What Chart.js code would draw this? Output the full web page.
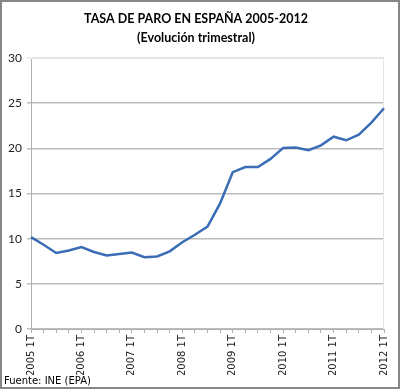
<!DOCTYPE html>
<html>
<head>
<meta charset="utf-8">
<script src="https://cdn.jsdelivr.net/npm/chart.js@4/dist/chart.umd.min.js"></script>
<style>
  body { margin: 0; background: #fff; }
  #box { width: 400px; height: 389px; box-sizing: border-box; border: 2px solid #868686; }
  #box canvas { display: block; }
</style>
</head>
<body>
<div id="box"><canvas id="myChart" width="396" height="385"></canvas></div>
<script>
var quarters = [
  "2005 1T", "2005 2T", "2005 3T", "2005 4T",
  "2006 1T", "2006 2T", "2006 3T", "2006 4T",
  "2007 1T", "2007 2T", "2007 3T", "2007 4T",
  "2008 1T", "2008 2T", "2008 3T", "2008 4T",
  "2009 1T", "2009 2T", "2009 3T", "2009 4T",
  "2010 1T", "2010 2T", "2010 3T", "2010 4T",
  "2011 1T", "2011 2T", "2011 3T", "2011 4T",
  "2012 1T"
];
var tasaParo = [
  10.17, 9.33, 8.42, 8.70,
  9.07, 8.53, 8.15, 8.30,
  8.47, 7.95, 8.03, 8.60,
  9.60, 10.43, 11.33, 13.91,
  17.36, 17.92, 17.93, 18.83,
  20.05, 20.09, 19.79, 20.33,
  21.29, 20.89, 21.52, 22.85,
  24.44
];
var shownLabels = ["2005 1T", "2006 1T", "2007 1T", "2008 1T", "2009 1T", "2010 1T", "2011 1T", "2012 1T"];

// light frame round the plot area, like the Excel chart
var plotFrame = {
  id: "plotFrame",
  beforeDatasetsDraw: function (chart) {
    var a = chart.chartArea;
    var ctx = chart.ctx;
    ctx.save();
    ctx.strokeStyle = "#e4e4e4";
    ctx.lineWidth = 1;
    ctx.beginPath();
    ctx.moveTo(a.left, a.top + 0.5);
    ctx.lineTo(a.right - 0.5, a.top + 0.5);
    ctx.lineTo(a.right - 0.5, a.bottom);
    ctx.stroke();
    ctx.restore();
  }
};

new Chart("myChart", {
  type: "line",
  data: {
    labels: quarters,
    datasets: [{
      data: tasaParo,
      borderColor: "#3a6db6",
      borderWidth: 2.5,
      pointRadius: 0,
      tension: 0,
      fill: false
    }]
  },
  plugins: [plotFrame],
  options: {
    responsive: false,
    animation: false,
    layout: { padding: { left: 2, right: 10, top: 0, bottom: 0 } },
    plugins: {
      legend: { display: false },
      tooltip: { enabled: false },
      title: {
        display: true,
        text: ["TASA DE PARO EN ESPAÑA 2005-2012", "(Evolución trimestral)"],
        color: "#000",
        font: { family: "Lato", size: 12.5, weight: "bold", lineHeight: 1.56 },
        padding: { top: 7, bottom: 10 }
      },
      subtitle: {
        display: true,
        position: "bottom",
        align: "start",
        text: "Fuente: INE (EPA)",
        color: "#000",
        font: { family: "DejaVu Sans", size: 10, lineHeight: 1.2 },
        padding: { top: 0, bottom: 0 }
      }
    },
    scales: {
      x: {
        grid: { drawOnChartArea: false, drawTicks: true, tickLength: 4, color: "#b0b0b0" },
        border: { color: "#b0b0b0" },
        ticks: {
          autoSkip: false,
          minRotation: 90,
          maxRotation: 90,
          padding: 2,
          color: "#222",
          font: { family: "DejaVu Sans", size: 10 },
          callback: function (v, i) {
            var lab = quarters[i];
            return shownLabels.indexOf(lab) >= 0 ? lab : "";
          }
        },
        afterFit: function (s) { s.height = 46; }
      },
      y: {
        min: 0,
        max: 30,
        grid: {
          tickLength: 4,
          color: function (c) { return c.tick && c.tick.value === 30 ? "#e4e4e4" : "#bdbdbd"; },
          lineWidth: 1.5
        },
        border: { color: "#b0b0b0" },
        ticks: {
          stepSize: 5,
          padding: 5,
          color: "#222",
          font: { family: "Lato", size: 12 }
        },
        afterFit: function (s) { s.width = 27; }
      }
    }
  }
});
</script>
</body>
</html>
